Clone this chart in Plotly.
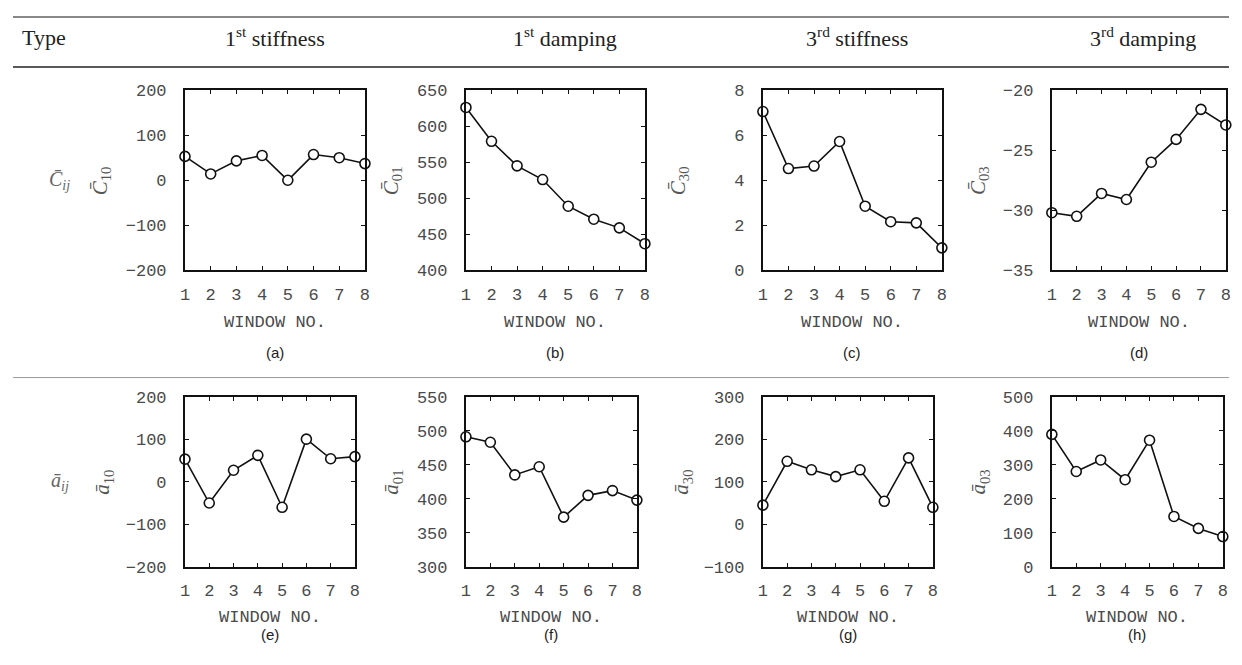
import plotly.graph_objects as go

# Figure size; positions below are given in target-picture pixels and mapped
# through the measured page-to-picture relation of this page.
W, H = 1226, 645
OFF = 8
SX, BX = 0.992, 5.06
SY, BY = 0.969, 8.25

windows = [1, 2, 3, 4, 5, 6, 7, 8]
c10 = [53, 14, 43, 55, 0, 57, 50, 37]
c01 = [626, 579, 545, 526, 489, 471, 459, 437]
c30 = [7.05, 4.52, 4.63, 5.72, 2.85, 2.16, 2.11, 1.0]
c03 = [-30.2, -30.5, -28.6, -29.1, -26.0, -24.1, -21.6, -22.9]
a10 = [53, -50, 27, 62, -60, 100, 54, 59]
a01 = [491, 483, 435, 447, 373, 405, 412, 398]
a30 = [45, 148, 128, 112, 128, 54, 156, 40]
a03 = [389, 280, 314, 256, 372, 148, 113, 89]

headers = ["Type", "1<sup>st</sup> stiffness", "1<sup>st</sup> damping",
           "3<sup>rd</sup> stiffness", "3<sup>rd</sup> damping"]
row_labels = ["<i>C̄<sub>ij</sub></i>", "<i>ā<sub>ij</sub></i>"]
y_titles = ["<i>C̄</i><sub>10</sub>", "<i>C̄</i><sub>01</sub>", "<i>C̄</i><sub>30</sub>", "<i>C̄</i><sub>03</sub>",
            "<i>ā</i><sub>10</sub>", "<i>ā</i><sub>01</sub>", "<i>ā</i><sub>30</sub>", "<i>ā</i><sub>03</sub>"]
panel_tags = ["(a)", "(b)", "(c)", "(d)", "(e)", "(f)", "(g)", "(h)"]
series = [c10, c01, c30, c03, a10, a01, a30, a03]
y_ranges = [(-200, 200, 100), (400, 650, 50), (0, 8, 2), (-35, -20, 5),
            (-200, 200, 100), (300, 550, 50), (-100, 300, 100), (0, 500, 100)]

# layout (target pixels)
x_px = [(185, 365), (466, 645), (763, 942), (1052, 1226),
        (185, 355), (466, 637), (763, 933), (1052, 1223)]
y_px = [(90, 270)] * 4 + [(396, 566)] * 4
ytitle_x = [101, 392, 679, 979, 103, 392, 682, 979]
xtitle_y = [322] * 4 + [617] * 4
tag_y = [352] * 4 + [634] * 4


def px(x):
    return ((x - BX) / SX - OFF) / W


def py(y):
    return 1 - ((y - BY) / SY - OFF) / H


fig = go.Figure()
annotations = []
tick_font = dict(family="Liberation Mono, Courier New, monospace", size=17, color="#4a4a4a")
serif = "Liberation Serif, DejaVu Serif, serif"

for i in range(8):
    n = "" if i == 0 else str(i + 1)
    fig.add_trace(go.Scatter(
        x=windows, y=series[i], mode="lines+markers",
        line=dict(color="#111", width=1.6),
        marker=dict(symbol="circle", size=10, color="white", line=dict(color="#111", width=1.6)),
        cliponaxis=False, showlegend=False,
        xaxis="x" + n, yaxis="y" + n))
    lo, hi, dt = y_ranges[i]
    x0, x1 = x_px[i]
    y0, y1 = y_px[i]
    common = dict(showline=True, linewidth=2, linecolor="#111", mirror="ticks",
                  ticks="inside", ticklen=4, tickwidth=1, tickcolor="#111",
                  showgrid=False, zeroline=False, tickfont=tick_font)
    fig.layout["xaxis" + n] = dict(domain=[px(x0), px(x1)], range=[1, 8], tick0=1, dtick=1,
                                   anchor="y" + n, ticklabelstandoff=7, **common)
    fig.layout["yaxis" + n] = dict(domain=[py(y1), py(y0)], range=[lo, hi], tick0=lo, dtick=dt,
                                   anchor="x" + n, ticklabelstandoff=13, **common)
    cx = (x0 + x1) / 2
    annotations.append(dict(text="WINDOW NO.", x=px(cx), y=py(xtitle_y[i]), xref="paper", yref="paper",
                            showarrow=False, font=tick_font, xanchor="center", yanchor="middle"))
    annotations.append(dict(text=panel_tags[i], x=px(cx), y=py(tag_y[i]), xref="paper", yref="paper",
                            showarrow=False,
                            font=dict(family="Liberation Sans, Arial, sans-serif", size=15, color="#222"),
                            xanchor="center", yanchor="middle"))
    annotations.append(dict(text=y_titles[i], x=px(ytitle_x[i]), y=py((y0 + y1) / 2), xref="paper",
                            yref="paper", showarrow=False, textangle=-90,
                            font=dict(family=serif, size=21, color="#555"),
                            xanchor="center", yanchor="middle"))

header_x = [44, 275, 565, 857, 1143]
for hx, ht in zip(header_x, headers):
    annotations.append(dict(text=ht, x=px(hx), y=py(37), xref="paper", yref="paper", showarrow=False,
                            font=dict(family=serif, size=22, color="#222"),
                            xanchor="center", yanchor="middle"))
for ry, rl in zip([180, 481], row_labels):
    annotations.append(dict(text=rl, x=px(60), y=py(ry), xref="paper", yref="paper", showarrow=False,
                            font=dict(family=serif, size=20, color="#666"),
                            xanchor="center", yanchor="middle"))

shapes = [
    dict(type="line", xref="paper", yref="paper", x0=0, x1=1, y0=1 - 1 / H, y1=1 - 1 / H,
         line=dict(color="#888", width=2)),
    dict(type="line", xref="paper", yref="paper", x0=0, x1=1, y0=py(67), y1=py(67),
         line=dict(color="#222", width=1.5)),
    dict(type="line", xref="paper", yref="paper", x0=0, x1=1, y0=py(377), y1=py(377),
         line=dict(color="#999", width=1)),
]

fig.update_layout(width=W, height=H, margin=dict(l=0, r=0, t=0, b=0),
                  paper_bgcolor="white", plot_bgcolor="white",
                  annotations=annotations, shapes=shapes)

fig.write_html("out.html", config={"displayModeBar": False})
